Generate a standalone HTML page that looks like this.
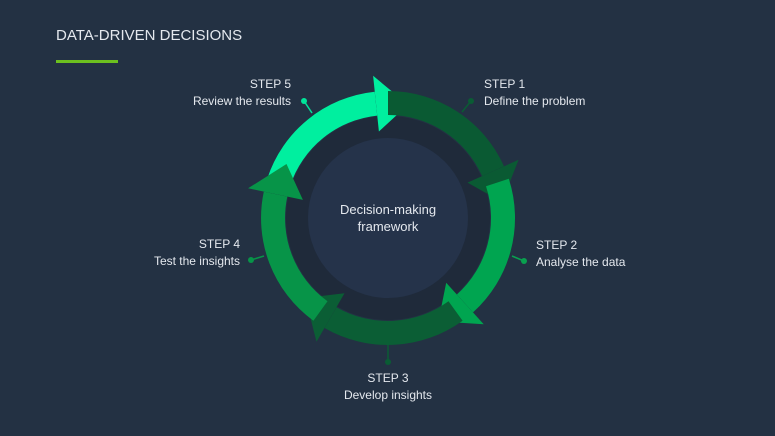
<!DOCTYPE html>
<html><head><meta charset="utf-8"><style>
html,body{margin:0;padding:0;background:#233143;}
body{width:775px;height:436px;position:relative;overflow:hidden;font-family:"Liberation Sans",sans-serif;}
.t{position:absolute;color:#e4e8ee;font-size:12px;line-height:17px;white-space:nowrap;}
</style></head><body>
<div class="t" style="left:56px;top:27px;font-size:15px;line-height:18px;">DATA-DRIVEN DECISIONS</div>
<div style="position:absolute;left:56px;top:60px;width:62px;height:3px;background:#6cc01f"></div>
<svg id="s" width="775" height="436" style="position:absolute;left:0;top:0">
<circle cx="388" cy="218" r="102" fill="#1f2a3a"/>
<circle cx="388" cy="218" r="80" fill="#25334a"/>
<g id="g"></g>
<g stroke-width="1.5">
<line x1="471" y1="101" x2="462" y2="112" stroke="#0a5c34"/><circle cx="471" cy="101" r="3" fill="#0a5c34"/>
<line x1="524" y1="261" x2="512" y2="256" stroke="#09a04f"/><circle cx="524" cy="261" r="3" fill="#09a04f"/>
<line x1="388" y1="362" x2="388" y2="345" stroke="#0a5c34"/><circle cx="388" cy="362" r="3" fill="#0a5c34"/>
<line x1="251" y1="260" x2="264" y2="256" stroke="#079448"/><circle cx="251" cy="260" r="3" fill="#079448"/>
<line x1="304" y1="101" x2="312" y2="113" stroke="#00e59a"/><circle cx="304" cy="101" r="3" fill="#00e59a"/>
</g>
<text x="388" y="214" fill="#e4e8ee" font-size="13" text-anchor="middle" font-family="Liberation Sans">Decision-making</text>
<text x="388" y="231" fill="#e4e8ee" font-size="13" text-anchor="middle" font-family="Liberation Sans">framework</text>
</svg>
<div class="t" style="left:484px;top:76px">STEP 1<br>Define the problem</div>
<div class="t" style="left:536px;top:237px">STEP 2<br>Analyse the data</div>
<div class="t" style="left:288px;top:370px;width:200px;text-align:center">STEP 3<br>Develop insights</div>
<div class="t" style="left:40px;top:236px;width:200px;text-align:right">STEP 4<br>Test the insights</div>
<div class="t" style="left:91px;top:76px;width:200px;text-align:right">STEP 5<br>Review the results</div>
<script>
(function(){
var cx=388,cy=218,ro=127,ri=103,rm=115;
var cols=["#0a5a33","#00a550","#0b5e35","#079448","#00ef9f"];
function p(r,a){a=a*Math.PI/180;return (cx+r*Math.cos(a)).toFixed(1)+","+(cy+r*Math.sin(a)).toFixed(1);}
var order=[4,0,1,2,3],h="";
order.forEach(function(k){
 var S=-90+72*k,B=S+66,T=S+82;
 h+='<path fill="'+cols[k]+'" d="M'+p(ro,S)+' A'+ro+','+ro+' 0 0 1 '+p(ro,B)+' L'+p(ri,B)+' A'+ri+','+ri+' 0 0 0 '+p(ri,S)+'Z"/>';
 h+='<path fill="'+cols[k]+'" d="M'+p(ro+16,B)+' L'+p(rm,T)+' L'+p(ri-16,B)+'Z"/>';
});
document.getElementById("g").innerHTML=h;
})();
</script>
</body></html>
